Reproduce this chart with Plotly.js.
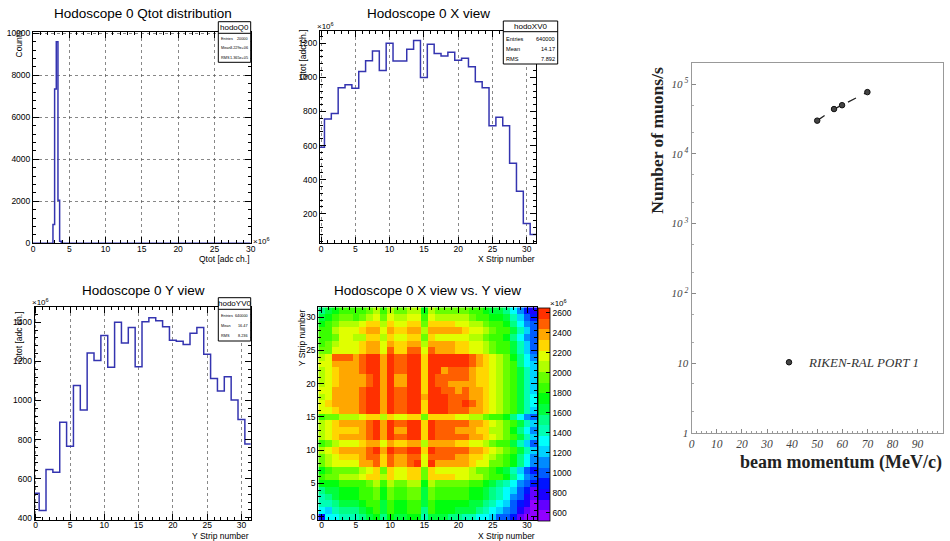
<!DOCTYPE html>
<html><head><meta charset="utf-8">
<script src="https://cdn.plot.ly/plotly-3.0.1.min.js"></script>
<style>html,body{margin:0;padding:0;background:#fff;overflow:hidden}#plot{width:950px;height:541px;}</style>
</head><body><div id="plot"></div>
<script>
// ---------------- data ----------------
const qtotBins = [2.865, 3.095, 3.325, 3.555, 3.785];      // bin centres, x10^6 adc ch.
const qtotCounts = [900, 7350, 9600, 2050, 100];
const qtotBinWidth = 0.23;
const qtotStats = {name: "hodoQ0", entries: "20000", mean: "3.229e+06", rms: "1.365e+05"};

const strips = [0,1,2,3,4,5,6,7,8,9,10,11,12,13,14,15,16,17,18,19,20,21,22,23,24,25,26,27,28,29,30,31];
const xViewQtot = [591,756,789,940,957,936,1034,1098,1155,1040,1200,1096,1096,1165,1216,1000,1194,1141,1126,1147,1100,1112,1063,975,940,717,766,717,496,333,143,79];
const xViewStats = {name: "hodoXV0", entries: "640000", mean: "14.17", rms: "7.892"};
const yViewQtot = [525,436,647,632,888,765,1077,951,1243,1204,1332,1170,1400,1294,1374,1173,1403,1424,1408,1378,1308,1303,1287,1344,1374,1236,1113,1048,1122,1002,902,777];
const yViewStats = {name: "hodoYV0", entries: "640000", mean: "16.47", rms: "8.236"};

// X view vs Y view, rows = Y strip 0..31, columns = X strip 0..31 (x10^6)
const xyQtot = [
[900,1300,1300,1450,1450,1450,1550,1650,1700,1550,1700,1600,1600,1700,1700,1450,1650,1600,1600,1550,1500,1450,1400,1350,1300,1250,1000,950,850,700,570,570],
[1300,1250,1400,1500,1550,1550,1650,1750,1800,1600,1800,1700,1700,1800,1800,1550,1800,1700,1700,1700,1650,1650,1600,1550,1450,1300,1200,1100,950,800,650,570],
[1450,1450,1550,1600,1600,1650,1700,1800,1850,1650,1850,1750,1750,1850,1850,1600,1850,1750,1750,1750,1700,1700,1650,1600,1550,1400,1350,1250,1050,900,750,600],
[1400,1500,1600,1700,1700,1700,1800,1900,1950,1750,1950,1850,1850,1950,1950,1650,1950,1900,1900,1900,1850,1850,1750,1700,1600,1500,1450,1350,1150,950,800,650],
[1550,1600,1650,1700,1700,1700,1800,1900,1950,1750,1950,1850,1850,1950,1950,1650,1950,1900,1900,1900,1850,1850,1750,1700,1650,1500,1450,1350,1200,1050,850,700],
[1700,1700,1750,1800,1800,1800,1900,2000,2050,1850,2050,1950,1950,2050,2050,1750,2050,2000,2000,2000,1950,1950,1850,1800,1750,1600,1550,1450,1300,1100,950,850],
[1850,1950,2000,2050,2050,2050,2150,2250,2300,2100,2300,2200,2200,2300,2300,2000,2300,2250,2250,2250,2200,2200,2100,2050,2000,1850,1800,1700,1500,1300,1100,950],
[1750,1850,1950,1950,1950,2000,2050,2150,2250,2000,2250,2150,2150,2250,2250,1950,2250,2200,2200,2200,2150,2150,2050,2000,1950,1800,1750,1650,1450,1250,1050,900],
[1950,2100,2150,2200,2200,2200,2350,2400,2450,2250,2490,2350,2350,2490,2550,2150,2550,2400,2400,2400,2350,2350,2250,2200,2150,2000,2000,1850,1700,1500,1300,1100],
[2000,2100,2200,2250,2250,2250,2350,2450,2500,2300,2500,2400,2400,2500,2500,2200,2500,2450,2450,2450,2400,2400,2300,2250,2200,2050,2000,1900,1700,1500,1300,1100],
[2100,2150,2300,2350,2350,2350,2400,2500,2600,2400,2600,2450,2450,2600,2600,2300,2600,2500,2500,2500,2450,2450,2400,2350,2300,2150,2100,2000,1800,1600,1400,1200],
[1900,2000,2100,2150,2150,2150,2250,2350,2400,2200,2400,2300,2300,2400,2400,2100,2400,2350,2350,2350,2300,2300,2200,2150,2100,1950,1900,1800,1600,1400,1250,1050],
[2050,2150,2300,2350,2350,2350,2400,2500,2600,2400,2550,2450,2450,2600,2600,2300,2600,2500,2500,2500,2450,2450,2400,2350,2300,2150,2100,2000,1800,1600,1400,1200],
[2100,2150,2250,2300,2300,2300,2400,2500,2550,2350,2550,2400,2400,2550,2550,2250,2550,2500,2500,2450,2400,2400,2350,2300,2250,2100,2050,1950,1750,1550,1350,1150],
[2100,2200,2300,2400,2350,2350,2400,2500,2600,2400,2600,2450,2450,2600,2600,2300,2600,2500,2500,2500,2450,2450,2400,2350,2300,2150,2100,2000,1800,1600,1400,1250],
[1900,1950,2000,2050,2050,2050,2150,2250,2280,2100,2280,2200,2200,2280,2280,2000,2280,2250,2250,2250,2200,2200,2100,2050,2000,1850,1800,1700,1500,1300,1150,1000],
[2150,2200,2300,2350,2350,2350,2450,2550,2600,2400,2600,2450,2450,2600,2600,2300,2600,2550,2550,2500,2450,2450,2400,2350,2300,2150,2100,2000,1800,1600,1400,1250],
[2150,2250,2350,2400,2400,2400,2450,2550,2600,2400,2600,2450,2450,2600,2600,2300,2600,2550,2550,2500,2450,2600,2450,2350,2300,2150,2100,2000,1800,1600,1450,1300],
[2100,2200,2350,2400,2400,2400,2500,2600,2600,2400,2600,2450,2450,2600,2600,2350,2600,2550,2550,2500,2450,2450,2400,2350,2300,2150,2100,2000,1850,1650,1450,1300],
[2150,2200,2350,2400,2400,2400,2450,2550,2600,2400,2600,2450,2450,2600,2600,2300,2600,2550,2500,2500,2400,2450,2400,2350,2300,2150,2100,2000,1800,1600,1400,1250],
[2100,2150,2300,2350,2350,2350,2400,2500,2600,2400,2600,2400,2400,2550,2600,2300,2600,2500,2450,2400,2400,2400,2350,2300,2250,2150,2100,2000,1800,1600,1400,1250],
[2100,2150,2300,2350,2350,2350,2400,2500,2600,2400,2600,2400,2400,2600,2600,2300,2600,2500,2450,2450,2450,2450,2350,2300,2250,2150,2100,2000,1800,1600,1400,1200],
[2100,2200,2300,2350,2350,2350,2450,2550,2600,2400,2600,2450,2450,2600,2600,2300,2600,2550,2350,2500,2500,2500,2400,2300,2300,2150,2100,2000,1800,1600,1400,1200],
[2150,2200,2350,2400,2400,2400,2450,2550,2600,2400,2600,2450,2450,2600,2600,2300,2600,2550,2550,2550,2550,2550,2450,2350,2300,2150,2100,2000,1800,1550,1350,1200],
[2100,2200,2450,2450,2450,2400,2450,2550,2600,2400,2600,2450,2450,2600,2600,2300,2600,2550,2550,2550,2550,2550,2450,2350,2300,2150,2100,1950,1750,1550,1350,1150],
[1950,2000,2150,2200,2200,2200,2300,2350,2400,2200,2450,2300,2300,2450,2450,2150,2450,2350,2350,2350,2300,2300,2200,2150,2100,1950,1900,1800,1600,1400,1200,1000],
[1900,1950,2100,2150,2150,2150,2250,2350,2400,2200,2400,2300,2300,2400,2400,2100,2400,2350,2350,2350,2300,2300,2200,2150,2100,1950,1900,1800,1600,1400,1200,1000],
[1800,1850,2000,2150,2150,2100,2100,2250,2300,2050,2250,2200,2200,2300,2300,2000,2300,2150,2150,2150,2150,2150,2100,2050,2000,1850,1800,1700,1500,1300,1100,950],
[1800,1850,2050,2150,2150,2150,2250,2350,2400,2200,2400,2300,2300,2400,2400,2100,2400,2350,2350,2350,2350,2300,2200,2150,2100,1950,1900,1800,1600,1400,1200,1000],
[1750,1800,1950,2050,2050,2050,2150,2250,2280,2100,2280,2200,2200,2280,2280,2000,2280,2250,2250,2250,2200,2200,2100,2050,2000,1850,1800,1700,1500,1300,1100,950],
[1650,1700,1850,1950,1950,1900,2000,2100,2150,1950,2150,2050,2050,2150,2150,1850,2150,2100,2100,2100,2050,2050,1950,1900,1850,1750,1700,1600,1400,1200,1000,850],
[1550,1650,1750,1850,1850,1800,1900,2000,2050,1850,2050,1950,1950,2050,2050,1750,2050,2000,2000,2000,1950,1950,1850,1800,1750,1650,1600,1500,1300,1100,900,800]
];
const xyTicks = [600,800,1000,1200,1400,1600,1800,2000,2200,2400,2600];

const momentum = [50, 56.7, 59.9, 70];          // MeV/c
const muonRate = [3.0e4, 4.4e4, 5.0e4, 7.7e4];   // muons/s
const legendLabel = "RIKEN-RAL PORT 1";

// ---------------- helpers ----------------
const W = 950, H = 541;
const px = v => v / W, py = v => 1 - v / H;
const SANS = "Liberation Sans, Arial, sans-serif";
const SERIF = "Liberation Serif, Times New Roman, serif";
const HCOL = "#3434b0";

function stepXY(centers, vals, w) {
  const xs = [], ys = [];
  centers.forEach((c, i) => { xs.push(c - w / 2); ys.push(vals[i]); });
  xs.push(centers[centers.length - 1] + w / 2); ys.push(vals[vals.length - 1]);
  return {xs, ys};
}

function rootAxis(domain, anchor, range, tickvals, minorDtick, grid, isX) {
  return {
    domain, anchor, range, tickvals, tickformat: "d", ticks: "inside", ticklen: 6, tickwidth: 1, tickcolor: "#000",
    ticklabelstandoff: isX ? -3 : 0,
    showline: true, linecolor: "#000", linewidth: 1, mirror: "ticks", zeroline: false,
    showgrid: grid, gridcolor: "#555", griddash: "dot", gridwidth: 0.7,
    minor: {ticks: "inside", ticklen: 3, tickcolor: "#000", dtick: minorDtick, showgrid: false},
    tickfont: {family: SANS, size: 8.5, color: "#000"}, layer: "above traces", fixedrange: true
  };
}

function ann(text, x, y, size, extra) {
  return Object.assign({text, xref: "paper", yref: "paper", x: px(x), y: py(y), showarrow: false,
    xanchor: "center", yanchor: "middle", borderpad: 0,
    font: {family: SANS, size, color: "#000"}}, extra || {});
}

const shapes = [], annotations = [];
function statsBox(st, x0, x1, y0, yHead, y1, rows, fs) {
  shapes.push({type: "rect", xref: "paper", yref: "paper", x0: px(x0), x1: px(x1), y0: py(y1), y1: py(y0),
    line: {color: "#000", width: 1}, fillcolor: "#fff", layer: "above"});
  shapes.push({type: "line", xref: "paper", yref: "paper", x0: px(x0), x1: px(x1), y0: py(yHead), y1: py(yHead),
    line: {color: "#000", width: 1}, layer: "above"});
  annotations.push(ann(st.name, (x0 + x1) / 2, (y0 + yHead) / 2, 8));
  const labels = ["Entries", "Mean", "RMS"], vals = [st.entries, st.mean, st.rms];
  labels.forEach((l, i) => {
    annotations.push(ann(l, x0 + 2, rows[i], fs, {xanchor: "left"}));
    annotations.push(ann(vals[i], x1 - 1.5, rows[i], fs, {xanchor: "right"}));
  });
}

// ---------------- traces ----------------
const traces = [];
{
  const s = stepXY(qtotBins, qtotCounts, qtotBinWidth);
  const xs = [0].concat(s.xs.slice(0, -1), [s.xs[s.xs.length - 1], 30]);
  const ys = [0].concat(s.ys.slice(0, -1), [0, 0]);
  traces.push({type: "scatter", mode: "lines", x: xs, y: ys, xaxis: "x", yaxis: "y",
    line: {shape: "hv", color: HCOL, width: 1.5}, hoverinfo: "skip", showlegend: false});
}
{
  const s = stepXY(strips, xViewQtot, 1);
  traces.push({type: "scatter", mode: "lines", x: s.xs, y: s.ys, xaxis: "x2", yaxis: "y2",
    line: {shape: "hv", color: HCOL, width: 1.5}, hoverinfo: "skip", showlegend: false});
}
{
  const s = stepXY(strips, yViewQtot, 1);
  traces.push({type: "scatter", mode: "lines", x: s.xs, y: s.ys, xaxis: "x3", yaxis: "y3",
    line: {shape: "hv", color: HCOL, width: 1.5}, hoverinfo: "skip", showlegend: false});
}
// heat map with the ROOT "pretty" palette, 20 contour levels
const ZMIN = 520, ZMAX = 2653, NLEV = 20;
const cs = [];
for (let k = 0; k < NLEV; k++) {
  const idx = Math.floor(k * 50 / NLEV + 0.01);
  const hue = 280 - (idx + 1) * 5.6;
  const col = `hsl(${hue.toFixed(1)},100%,50%)`;
  cs.push([k / NLEV, col]); cs.push([(k + 1) / NLEV, col]);
}
traces.push({type: "heatmap", x: strips, y: strips, z: xyQtot, xaxis: "x4", yaxis: "y4",
  zmin: ZMIN, zmax: ZMAX, colorscale: cs, hoverinfo: "skip", showscale: true,
  colorbar: {x: px(537.7), xanchor: "left", xpad: 0, ypad: 0, y: py(520.7), yanchor: "bottom",
    len: (520.7 - 307.3) / H, lenmode: "fraction", thickness: 11.6, thicknessmode: "pixels",
    outlinewidth: 0.8, outlinecolor: "#000", ticks: "inside", ticklen: 4, tickcolor: "#000",
    tickvals: xyTicks, tickformat: "d", tickfont: {family: SANS, size: 8.5, color: "#000"}}});
// muon rate
traces.push({type: "scatter", mode: "lines", x: momentum, y: muonRate, xaxis: "x5", yaxis: "y5",
  line: {color: "#222", width: 1.3, dash: "dash"}, hoverinfo: "skip", showlegend: false});
traces.push({type: "scatter", mode: "markers", x: momentum, y: muonRate, xaxis: "x5", yaxis: "y5",
  name: legendLabel, marker: {symbol: "circle", size: 5.5, color: "#444", line: {color: "#111", width: 1}},
  hoverinfo: "skip", showlegend: true});

// ---------------- layout ----------------
const layout = {
  width: W, height: H, margin: {l: 0, r: 0, t: 0, b: 0}, paper_bgcolor: "#fff", plot_bgcolor: "#fff",
  showlegend: true,
  legend: {x: px(769), y: py(362.3), xanchor: "left", yanchor: "middle", bgcolor: "rgba(0,0,0,0)",
    font: {family: SERIF, size: 13, style: "italic", color: "#333"}, itemwidth: 30, tracegroupgap: 0},
  xaxis: rootAxis([px(33), px(250.7)], "y", [0, 30], [0,5,10,15,20,25,30], 1, true, true),
  yaxis: rootAxis([py(243.3), py(32.3)], "x", [0, 10050], [0,2000,4000,6000,8000,10000], 400, true, false),
  xaxis2: rootAxis([px(320), px(536)], "y2", [-0.15, 31.35], [0,5,10,15,20,25,30], 1, true, true),
  yaxis2: rootAxis([py(243.3), py(30.7)], "x2", [27, 1274], [200,400,600,800,1000,1200], 40, false, false),
  xaxis3: rootAxis([px(34.7), px(250.7)], "y3", [-0.15, 31.35], [0,5,10,15,20,25,30], 1, true, true),
  yaxis3: rootAxis([py(520), py(307.3)], "x3", [388, 1477], [400,600,800,1000,1200,1400], 40, false, false),
  xaxis4: rootAxis([px(318.3), px(537.3)], "y4", [-0.5, 31.5], [0,5,10,15,20,25,30], 1, false, true),
  yaxis4: rootAxis([py(520), py(307.3)], "x4", [-0.5, 31.5], [0,5,10,15,20,25,30], 1, false, false),
  xaxis5: {domain: [px(691.7), px(942.7)], anchor: "y5", range: [0, 100],
    tickvals: [0,10,20,30,40,50,60,70,80,90,100], ticks: "inside", ticklen: 4, tickcolor: "#888",
    showline: true, linecolor: "#999", linewidth: 1.2, mirror: true, zeroline: false, showgrid: false,
    minor: {ticks: "inside", ticklen: 2, dtick: 2, tickcolor: "#999", showgrid: false},
    tickfont: {family: SERIF, size: 11.5, style: "italic", color: "#444"}, fixedrange: true},
  yaxis5: {domain: [py(432.7), py(63.3)], anchor: "x5", type: "log", range: [0, 5.3],
    tickvals: [1, 10, 100, 1000, 10000, 100000],
    ticktext: ["1", "10", "10<sup> 2</sup>", "10<sup> 3</sup>", "10<sup> 4</sup>", "10<sup> 5</sup>"],
    ticks: "inside", ticklen: 4, tickcolor: "#888",
    showline: true, linecolor: "#999", linewidth: 1.2, mirror: true, zeroline: false, showgrid: false,
    minor: {ticks: "inside", ticklen: 2, tickcolor: "#aaa", showgrid: false},
    tickfont: {family: SERIF, size: 11, style: "italic", color: "#444"}, fixedrange: true},
  shapes, annotations
};

// titles
annotations.push(ann("Hodoscope 0 Qtot distribution", 142.5, 14, 13.5));
annotations.push(ann("Hodoscope 0 X view", 428, 14, 13.5));
annotations.push(ann("Hodoscope 0 Y view", 143, 290.7, 13.5));
annotations.push(ann("Hodoscope 0 X view vs. Y view", 427.5, 290.7, 13.5));
// axis titles
annotations.push(ann("Qtot [adc ch.]", 250.7, 259, 8.5, {xanchor: "right"}));
annotations.push(ann("Counts", 18, 44.5, 8.5, {textangle: -90}));
annotations.push(ann("X Strip number", 536, 259, 8.5, {xanchor: "right"}));
annotations.push(ann("Qtot [adc ch.]", 303, 55, 8.5, {textangle: -90}));
annotations.push(ann("Y Strip number", 250, 536, 8.5, {xanchor: "right"}));
annotations.push(ann("Qtot [adc ch.]", 19, 337, 8.5, {textangle: -90}));
annotations.push(ann("X Strip number", 535.7, 536, 8.5, {xanchor: "right"}));
annotations.push(ann("Y Strip number", 301.7, 337.5, 8.5, {textangle: -90}));
// exponents
annotations.push(ann("×10<sup>6</sup>", 252, 241, 8, {xanchor: "left"}));
annotations.push(ann("×10<sup>6</sup>", 316, 26, 8, {xanchor: "left"}));
annotations.push(ann("×10<sup>6</sup>", 31, 302, 8, {xanchor: "left"}));
annotations.push(ann("×10<sup>6</sup>", 549, 303, 8, {xanchor: "left"}));
// right panel axis titles
annotations.push(ann("<b>Number of muons/s</b>", 656.7, 140, 17.5,
  {textangle: -90, font: {family: SERIF, size: 17.5, color: "#222"}}));
annotations.push(ann("<b>beam momentum (MeV/c)</b>", 942.7, 462.7, 18,
  {xanchor: "right", font: {family: SERIF, size: 18, color: "#222"}}));

// stats boxes
statsBox(qtotStats, 218.3, 250.7, 21.7, 33.3, 62.3, [39.3, 48.3, 58.3], 3.8);
statsBox(xViewStats, 503.3, 557.7, 21, 31.7, 64, [39.3, 49.3, 59.3], 5.6);
statsBox(yViewStats, 218.3, 250.7, 297.7, 309.3, 341, [315.7, 325.7, 336], 3.8);

Plotly.newPlot("plot", traces, layout, {staticPlot: true, displayModeBar: false});
</script></body></html>
